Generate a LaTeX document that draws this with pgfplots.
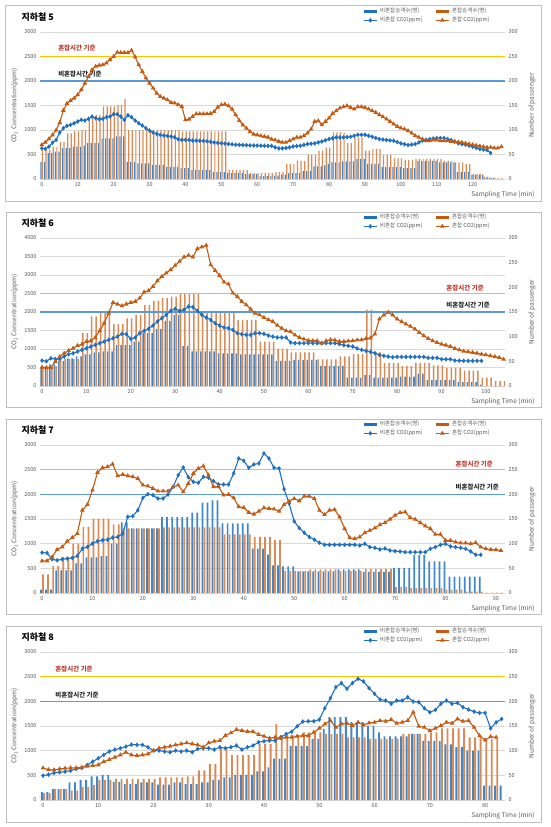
\documentclass[border=0pt]{standalone}
\usepackage{pgfplots}
\pgfplotsset{compat=1.18}
\usepackage{pgfplotstable}
\usepackage{fontspec}
\setmainfont{Noto Sans CJK KR}
\definecolor{lineblue}{HTML}{1F70C1}
\definecolor{lineorange}{HTML}{C55A11}
\definecolor{barblue}{HTML}{3F87C9}
\definecolor{barorange}{HTML}{DA8B55}
\definecolor{thyellow}{HTML}{FFC000}
\definecolor{thblue}{HTML}{5B9BD5}
\definecolor{labred}{HTML}{C0392B}
\definecolor{labdark}{HTML}{262626}
\definecolor{tickgray}{HTML}{595959}
\definecolor{gridgray}{HTML}{D9D9D9}
\definecolor{framegray}{HTML}{BFBFBF}
\newcommand\tickfont{\fontsize{5.5}{6}\selectfont}
\newcommand\labfont{\fontsize{6.5}{7}\selectfont}
\newcommand\legfont{\fontsize{5.5}{6}\selectfont}
\newcommand\thfont{\fontsize{6.5}{7}\selectfont\bfseries}
\newcommand\titfont{\fontsize{9}{10}\selectfont\bfseries}

\pgfplotsset{
 pbase/.style={scale only axis, width=465pt, anchor=south west,
   axis line style={draw=none}, major tick length=0pt, tick style={draw=none},
   ticklabel style={font=\tickfont, text=tickgray},
   /pgf/number format/assume math mode=true,
   /pgf/number format/1000 sep={}},
 pleft/.style={pbase, ymajorgrids, grid style={gridgray, line width=0.5pt},
   ylabel={CO\textsubscript{2} Concentration(ppm)},
   ylabel style={at={(axis description cs:-0.055,0.5)}, anchor=center, font=\labfont, text=tickgray},
   xlabel={Sampling Time (min)},
   xlabel style={at={(axis description cs:1.071,-0.109)}, anchor=east, font=\labfont, text=tickgray}},
 pright/.style={pbase, axis x line=none, axis y line*=right, ymin=0, ymax=300, ytick={0,50,...,300},
   ylabel={Number of passenger},
   ylabel style={at={(axis description cs:1.058,0.5)}, anchor=center, font=\labfont, text=tickgray},
   ybar, bar width=0.34},
 plines/.style={pbase, hide axis, unbounded coords=jump,
   legend columns=2, legend cell align=left,
   legend style={draw=none, fill=none, font=\legfont, text=tickgray,
     at={(axis description cs:0.978,1.03)}, anchor=south east,
     /tikz/every even column/.append style={column sep=10pt}, row sep=-1pt},
   legend image code/.code={\draw[mark repeat=2,mark phase=2,##1] plot coordinates {(0cm,0cm) (0.22cm,0cm) (0.44cm,0cm)};}},
 co2b/.style={lineblue, line width=1.1pt, mark=diamond*, mark size=1.5pt, mark options={solid, fill=lineblue}},
 co2o/.style={lineorange, line width=1.1pt, mark=triangle*, mark size=1.6pt, mark options={solid, fill=lineorange}},
 bb/.style={fill=barblue, draw=none, bar shift=-0.2},
 bo/.style={fill=barorange, draw=none, bar shift=0.2},
}

\pgfplotstableread{
t b o cb co
0 35 60 627 700
1 35 60 614 750
2 53 60 660 820
3 53 65 743 900
4 56 65 798 1000
5 56 76 948 1150
6 63 76 1037 1400
7 63 93 1084 1540
8 63 93 1105 1600
9 66 97 1139 1650
10 66 97 1173 1720
11 66 100 1207 1820
12 68 100 1193 1955
13 73 124 1228 2090
14 73 124 1275 2230
15 73 131 1241 2300
16 73 131 1221 2320
17 83 148 1228 2330
18 83 148 1262 2365
19 83 148 1275 2435
20 83 148 1323 2500
21 87 151 1323 2585
22 87 151 1275 2580
23 87 163 1207 2580
24 35 100 1303 2580
25 35 100 1262 2625
26 35 100 1193 2490
27 32 100 1139 2330
28 32 100 1091 2195
29 32 100 1037 2060
30 32 100 989 1955
31 29 100 948 1855
32 29 100 921 1750
33 29 100 900 1685
34 29 100 887 1650
35 25 100 880 1615
36 25 100 866 1560
37 25 100 852 1550
38 25 100 812 1515
39 22 97 798 1480
40 22 97 798 1207
41 22 97 798 1220
42 18 97 784 1275
43 18 97 784 1330
44 18 97 780 1330
45 18 97 776 1330
46 18 97 770 1330
47 18 97 760 1335
48 14 97 745 1377
49 14 97 738 1466
50 14 97 730 1515
51 14 97 722 1527
52 12 18 715 1493
53 12 18 708 1425
54 12 18 700 1309
55 12 18 696 1193
56 12 18 693 1104
57 10 18 690 1036
58 10 12 686 968
59 10 12 684 914
60 10 12 682 900
61 6 12 680 880
62 6 12 678 866
63 6 12 676 852
64 6 12 675 811
65 7 14 645 795
66 7 14 625 767
67 9 14 625 747
68 9 31 632 747
69 12 31 645 780
70 12 31 665 815
71 12 37 672 850
72 12 37 679 850
73 16 37 696 883
74 16 50 713 937
75 16 50 720 1018
76 26 50 727 1175
77 26 58 747 1188
78 26 58 767 1107
79 28 64 790 1175
80 31 64 815 1243
81 34 95 832 1338
82 34 95 849 1392
83 34 95 849 1446
84 36 95 849 1473
85 36 73 855 1494
86 36 73 862 1460
87 36 85 882 1426
88 41 85 903 1473
89 41 85 903 1473
90 41 58 903 1460
91 31 58 882 1426
92 31 61 862 1392
93 31 61 838 1358
94 31 61 815 1310
95 24 49 805 1270
96 24 49 795 1222
97 24 49 788 1175
98 24 42 781 1120
99 24 42 754 1073
100 24 42 727 1039
101 22 39 710 1018
102 22 39 693 985
103 22 39 703 937
104 22 41 713 883
105 37 41 747 850
106 37 41 781 815
107 37 41 798 780
108 37 41 815 780
109 37 41 825 795
110 37 41 835 795
111 34 41 835 780
112 34 37 835 780
113 34 37 815 780
114 34 37 795 767
115 34 34 760 767
116 14 34 727 754
117 14 34 713 747
118 14 31 700 727
119 14 31 680 713
120 9 10 659 700
121 9 10 635 686
122 9 10 611 672
123 9 5 600 659
124 3 5 591 645
125 3 2 530 645
126 3 2 nan 631
127 0 2 nan 631
128 0 2 nan 659
}\tabA

\pgfplotstableread{
t b o cb co
0 36 40 686 506
1 36 40 668 497
2 44 40 750 497
3 44 40 731 659
4 51 55 731 795
5 51 55 795 885
6 56 55 858 957
7 56 55 885 1020
8 60 55 930 1093
9 60 107 975 1129
10 64 107 1020 1201
11 64 141 1066 1219
12 68 141 1111 1309
13 68 150 1156 1490
14 70 150 1201 1698
15 70 150 1246 1969
16 70 126 1291 2258
17 83 126 1336 2212
18 83 126 1409 2167
19 83 137 1400 2212
20 83 137 1273 2258
21 90 144 1309 2285
22 90 144 1427 2375
23 107 164 1490 2537
24 107 164 1544 2573
25 107 173 1634 2691
26 116 173 1743 2844
27 116 178 1833 2962
28 132 178 1923 3052
29 132 181 2032 3142
30 144 181 2086 3260
31 144 186 2032 3368
32 81 186 2059 3486
33 81 186 2149 3531
34 70 186 2131 3486
35 70 186 2032 3711
36 70 152 1923 3757
37 70 152 1851 3802
38 70 152 1788 3278
39 70 152 1698 3124
40 66 152 1634 2989
41 66 148 1580 2808
42 66 148 1562 2754
43 66 148 1517 2510
44 66 134 1427 2420
45 64 134 1400 2285
46 64 134 1382 2194
47 64 134 1382 2077
48 64 134 1427 1969
49 64 90 1427 1923
50 64 90 1409 1851
51 64 90 1364 1788
52 64 90 1336 1743
53 51 76 1312 1640
54 51 76 1312 1560
55 51 76 1312 1493
56 51 68 1176 1466
57 53 68 1158 1376
58 53 68 1158 1312
59 53 68 1158 1267
60 53 68 1158 1231
61 53 68 1158 1222
62 53 54 1158 1222
63 41 54 1158 1158
64 41 54 1158 1222
65 41 54 1158 1249
66 41 54 1158 1240
67 41 60 1131 1204
68 41 60 1104 1204
69 17 60 1086 1213
70 17 65 1068 1222
71 17 65 1014 1240
72 17 65 977 1249
73 22 155 950 1285
74 22 155 923 1294
75 17 68 887 1403
76 17 68 842 1810
77 17 47 815 1919
78 17 47 796 1991
79 17 47 778 1919
80 17 47 787 1810
81 19 41 787 1738
82 19 41 787 1674
83 19 41 787 1611
84 19 47 787 1539
85 25 47 787 1448
86 25 47 787 1358
87 12 47 760 1285
88 12 42 760 1222
89 12 42 760 1177
90 12 42 724 1131
91 12 37 724 1104
92 12 37 724 1068
93 12 37 690 1014
94 8 37 685 977
95 8 31 680 941
96 8 31 679 923
97 8 31 679 905
98 8 31 679 887
99 3 17 679 860
100 0 17 nan 842
101 0 17 nan 815
102 0 10 nan 796
103 0 10 nan 769
104 0 10 nan 724
}\tabB

\pgfplotstableread{
t b o cb co
0 7 38 819 650
1 7 38 812 650
2 7 55 684 731
3 46 55 663 880
4 46 73 684 934
5 46 73 697 1049
6 46 100 711 1124
7 60 100 751 1205
8 60 134 900 1679
9 72 134 934 1794
10 72 151 1002 2085
11 72 151 1049 2444
12 75 151 1070 2539
13 75 151 1083 2559
14 100 139 1124 2613
15 100 139 1137 2376
16 143 131 1205 2403
17 143 131 1544 2376
18 131 131 1557 2356
19 131 131 1679 2322
20 131 131 1929 2187
21 131 131 2004 2166
22 131 131 1984 2119
23 131 131 1916 2065
24 154 133 1916 2065
25 154 133 1997 2065
26 154 133 2153 2153
27 154 133 2390 2187
28 154 133 2546 2051
29 154 133 2349 2221
30 163 133 2254 2424
31 163 133 2234 2525
32 183 133 2356 2573
33 183 133 2336 2390
34 188 133 2268 2153
35 188 133 2200 2153
36 141 119 2200 1984
37 141 119 2200 1997
38 141 119 2424 1929
39 141 119 2728 1747
40 141 119 2681 1733
41 141 119 2539 1632
42 90 114 2606 1598
43 90 114 2627 1659
44 90 114 2830 1726
45 78 114 2728 1713
46 56 107 2540 1700
47 56 107 2526 1657
48 54 45 2105 1793
49 54 45 1813 1860
50 54 45 1453 1915
51 44 45 1317 1867
52 44 45 1222 1962
53 44 48 1134 1962
54 44 48 1080 1915
55 44 48 1019 1677
56 44 48 978 1589
57 44 48 978 1677
58 44 48 978 1691
59 48 45 978 1541
60 48 45 978 1304
61 48 45 978 1120
62 48 45 978 1100
63 48 45 964 1134
64 43 49 998 1222
65 43 49 930 1270
66 43 49 917 1317
67 43 49 883 1385
68 43 49 903 1426
69 43 49 862 1494
70 51 12 849 1575
71 51 12 842 1630
72 51 12 828 1643
73 51 10 828 1528
74 77 10 828 1494
75 77 10 828 1426
76 77 10 828 1358
77 64 10 896 1304
78 64 10 930 1188
79 64 10 978 1188
80 64 7 998 1066
81 33 7 944 1066
82 33 7 930 1032
83 33 7 917 1012
84 33 3 896 1012
85 33 3 842 998
86 33 3 774 1019
87 33 3 774 930
88 0 1 nan 896
89 0 1 nan 883
90 0 1 nan 876
91 0 1 nan 862
}\tabC

\pgfplotstableread{
t b o cb co
0 16 14 494 650
1 16 14 515 616
2 22 22 548 609
3 22 22 562 630
4 22 22 575 643
5 36 19 596 650
6 36 19 630 650
7 41 26 650 663
8 41 26 711 684
9 48 30 778 697
10 48 41 846 711
11 51 41 914 778
12 51 41 982 819
13 37 43 1022 867
14 37 43 1049 914
15 32 43 1083 968
16 32 43 1124 914
17 32 43 1117 900
18 36 43 1117 914
19 36 43 1070 934
20 36 43 1002 1002
21 31 46 1002 1049
22 31 46 982 1070
23 31 46 968 1090
24 36 46 1002 1117
25 36 46 982 1137
26 32 48 1002 1158
27 32 48 968 1137
28 32 60 1036 1117
29 36 60 1049 1070
30 36 73 1049 1158
31 41 73 1022 1192
32 41 107 1070 1205
33 46 107 1049 1307
34 46 91 1070 1361
35 51 91 1104 1428
36 51 91 1022 1408
37 51 91 1070 1388
38 51 91 1104 1388
39 58 114 1171 1327
40 58 114 1192 1293
41 66 114 1205 1252
42 84 154 1202 1270
43 84 132 1270 1249
44 84 132 1338 1270
45 109 132 1385 1270
46 109 132 1494 1290
47 109 137 1589 1304
48 109 137 1596 1304
49 124 137 1596 1372
50 124 137 1630 1453
51 144 134 1860 1541
52 168 134 2064 1609
53 168 134 2288 1473
54 168 134 2370 1541
55 168 127 2254 1555
56 158 127 2370 1507
57 158 127 2458 1575
58 158 127 2404 1521
59 151 124 2268 1562
60 151 124 2152 1575
61 137 124 2037 1609
62 129 124 2017 1596
63 129 124 1949 1630
64 129 124 2017 1555
65 129 134 2017 1575
66 129 134 2085 1609
67 134 134 1996 1779
68 134 134 1983 1494
69 120 134 1860 1473
70 120 137 1779 1405
71 120 137 1826 1453
72 120 145 1949 1507
73 113 145 2017 1575
74 113 145 1949 1555
75 107 145 1969 1643
76 107 145 1881 1596
77 100 127 1833 1609
78 100 127 1792 1473
79 100 127 1765 1304
80 29 124 1765 1216
81 29 124 1453 1283
82 29 124 1575 1270
83 29 0 1643 nan
}\tabD

\begin{document}
\begin{tikzpicture}
\useasboundingbox (0,0) rectangle (550pt,-827pt);

% ---------------- Panel 1 ----------------
\draw[framegray, line width=0.8pt] (5pt,-5pt) rectangle (541pt,-201pt);
\node[anchor=west, font=\titfont] at (18pt,-17pt) {지하철 5};
\begin{axis}[pleft, at={(40pt,-179pt)}, height=147pt, xmin=-0.5, xmax=129, ymin=0, ymax=3000,
  ytick={0,500,...,3000}, xtick={0,10,...,120}]
\addplot[draw=none] coordinates {(0,0)};
\end{axis}
\begin{axis}[pright, at={(40pt,-179pt)}, height=147pt, xmin=-0.5, xmax=129]
\addplot[bb] table[x=t, y=b]{\tabA};
\addplot[bo] table[x=t, y=o]{\tabA};
\end{axis}
\begin{axis}[plines, at={(40pt,-179pt)}, height=147pt, xmin=-0.5, xmax=129, ymin=0, ymax=3000]
\addplot[thyellow, line width=1.5pt, forget plot] coordinates {(-0.5,2500) (129,2500)};
\addplot[thblue, line width=1.5pt, forget plot] coordinates {(-0.5,2000) (129,2000)};
\node[anchor=west, font=\thfont, text=labred] at (axis cs:3.6,2673) {혼잡시간 기준};
\node[anchor=west, font=\thfont, text=labdark] at (axis cs:3.6,2143) {비혼잡시간 기준};
\addlegendimage{lineblue, line width=3pt}
\addlegendentry{비혼잡승객수(명)}
\addlegendimage{lineorange, line width=3pt}
\addlegendentry{혼잡승객수(명)}
\addplot[co2b] table[x=t, y=cb]{\tabA};
\addlegendentry{비혼잡 CO2(ppm)}
\addplot[co2o] table[x=t, y=co]{\tabA};
\addlegendentry{혼잡 CO2(ppm)}
\end{axis}

% ---------------- Panel 2 ----------------
\draw[framegray, line width=0.8pt] (6pt,-212pt) rectangle (541pt,-407pt);
\node[anchor=west, font=\titfont] at (18pt,-223pt) {지하철 6};
\begin{axis}[pleft, at={(40pt,-386pt)}, height=148pt, xmin=-0.45, xmax=104.3, ymin=0, ymax=4000,
  ytick={0,500,...,4000}, xtick={0,10,...,100}]
\addplot[draw=none] coordinates {(0,0)};
\end{axis}
\begin{axis}[pright, at={(40pt,-386pt)}, height=148pt, xmin=-0.45, xmax=104.3]
\addplot[bb] table[x=t, y=b]{\tabB};
\addplot[bo] table[x=t, y=o]{\tabB};
\end{axis}
\begin{axis}[plines, at={(40pt,-386pt)}, height=148pt, xmin=-0.45, xmax=104.3, ymin=0, ymax=4000]
\addplot[thyellow, line width=1.5pt, forget plot] coordinates {(-0.45,2500) (104.3,2500)};
\addplot[thblue, line width=1.5pt, forget plot] coordinates {(-0.45,2000) (104.3,2000)};
\node[anchor=west, font=\thfont, text=labred] at (axis cs:90.3,2649) {혼잡시간 기준};
\node[anchor=west, font=\thfont, text=labdark] at (axis cs:90.3,2189) {비혼잡시간 기준};
\addlegendimage{lineblue, line width=3pt}
\addlegendentry{비혼잡승객수(명)}
\addlegendimage{lineorange, line width=3pt}
\addlegendentry{혼잡승객수(명)}
\addplot[co2b] table[x=t, y=cb]{\tabB};
\addlegendentry{비혼잡 CO2(ppm)}
\addplot[co2o] table[x=t, y=co]{\tabB};
\addlegendentry{혼잡 CO2(ppm)}
\end{axis}

% ---------------- Panel 3 ----------------
\draw[framegray, line width=0.8pt] (6pt,-419pt) rectangle (541pt,-614pt);
\node[anchor=west, font=\titfont] at (18pt,-430pt) {지하철 7};
\begin{axis}[pleft, at={(40pt,-593pt)}, height=148pt, xmin=-0.4, xmax=91.8, ymin=0, ymax=3000,
  ytick={0,500,...,3000}, xtick={0,10,...,90}]
\addplot[draw=none] coordinates {(0,0)};
\end{axis}
\begin{axis}[pright, at={(40pt,-593pt)}, height=148pt, xmin=-0.4, xmax=91.8]
\addplot[bb] table[x=t, y=b]{\tabC};
\addplot[bo] table[x=t, y=o]{\tabC};
\end{axis}
\begin{axis}[plines, at={(40pt,-593pt)}, height=148pt, xmin=-0.4, xmax=91.8, ymin=0, ymax=3000]
\addplot[thyellow, line width=1.5pt, forget plot] coordinates {(-0.4,2500) (91.8,2500)};
\addplot[thblue, line width=1.5pt, forget plot] coordinates {(-0.4,2000) (91.8,2000)};
\node[anchor=west, font=\thfont, text=labred] at (axis cs:81.3,2615) {혼잡시간 기준};
\node[anchor=west, font=\thfont, text=labdark] at (axis cs:81.3,2149) {비혼잡시간 기준};
\addlegendimage{lineblue, line width=3pt}
\addlegendentry{비혼잡승객수(명)}
\addlegendimage{lineorange, line width=3pt}
\addlegendentry{혼잡승객수(명)}
\addplot[co2b] table[x=t, y=cb]{\tabC};
\addlegendentry{비혼잡 CO2(ppm)}
\addplot[co2o] table[x=t, y=co]{\tabC};
\addlegendentry{혼잡 CO2(ppm)}
\end{axis}

% ---------------- Panel 4 ----------------
\draw[framegray, line width=0.8pt] (6pt,-626pt) rectangle (541pt,-822pt);
\node[anchor=west, font=\titfont] at (18pt,-637pt) {지하철 8};
\begin{axis}[pleft, at={(40pt,-800pt)}, height=148pt, xmin=-0.54, xmax=83.6, ymin=0, ymax=3000,
  ytick={0,500,...,3000}, xtick={0,10,...,80}]
\addplot[draw=none] coordinates {(0,0)};
\end{axis}
\begin{axis}[pright, at={(40pt,-800pt)}, height=148pt, xmin=-0.54, xmax=83.6]
\addplot[bb] table[x=t, y=b]{\tabD};
\addplot[bo] table[x=t, y=o]{\tabD};
\end{axis}
\begin{axis}[plines, at={(40pt,-800pt)}, height=148pt, xmin=-0.54, xmax=83.6, ymin=0, ymax=3000]
\addplot[thyellow, line width=1.5pt, forget plot] coordinates {(-0.54,2500) (83.6,2500)};
\addplot[thblue, line width=1.5pt, forget plot] coordinates {(-0.54,2000) (83.6,2000)};
\node[anchor=west, font=\thfont, text=labred] at (axis cs:1.6,2655) {혼잡시간 기준};
\node[anchor=west, font=\thfont, text=labdark] at (axis cs:1.6,2128) {비혼잡시간 기준};
\addlegendimage{lineblue, line width=3pt}
\addlegendentry{비혼잡승객수(명)}
\addlegendimage{lineorange, line width=3pt}
\addlegendentry{혼잡승객수(명)}
\addplot[co2b] table[x=t, y=cb]{\tabD};
\addlegendentry{비혼잡 CO2(ppm)}
\addplot[co2o] table[x=t, y=co]{\tabD};
\addlegendentry{혼잡 CO2(ppm)}
\end{axis}
\end{tikzpicture}
\end{document}
